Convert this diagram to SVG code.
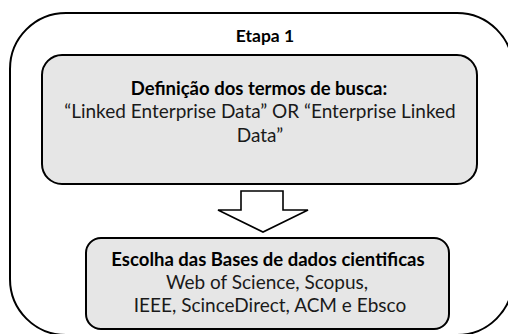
<svg xmlns="http://www.w3.org/2000/svg" width="508" height="334" viewBox="0 0 508 334">
<style>
.box{fill:#e6e6e6;stroke:#000;stroke-width:2}
.t{font-family:Lato,"Liberation Sans",sans-serif;font-size:19px;fill:#1a1a1a;text-anchor:middle}
.b{font-weight:bold;fill:#000;font-size:18.5px}
</style>
<rect width="508" height="334" fill="#fff"/>
<g id="etapa1">
<rect x="10" y="13" width="503" height="322" rx="56" ry="56" fill="none" stroke="#000" stroke-width="2"/>
<text class="t b" x="265" y="42" style="font-size:17.5px">Etapa 1</text>
</g>
<g id="definicao">
<rect class="box" x="42" y="55" width="435" height="129" rx="20" ry="20"/>
<text class="t b" x="259" y="95">Definição dos termos de busca:</text>
<text class="t" x="260" y="118">“Linked Enterprise Data” OR “Enterprise Linked</text>
<text class="t" x="260" y="142">Data”</text>
</g>
<g id="connectors">
<path d="M241,191 H283 V210 H308 L263,232 L218,210 H241 Z" fill="#fff" stroke="#000" stroke-width="1.6" stroke-linejoin="miter"/>
</g>
<g id="escolha">
<rect class="box" x="86" y="238" width="363" height="91" rx="15" ry="15"/>
<text class="t b" x="268" y="266">Escolha das Bases de dados cientificas</text>
<text class="t" x="267" y="289">Web of Science, Scopus,</text>
<text class="t" x="270" y="312">IEEE, ScinceDirect, ACM e Ebsco</text>
</g>
</svg>
